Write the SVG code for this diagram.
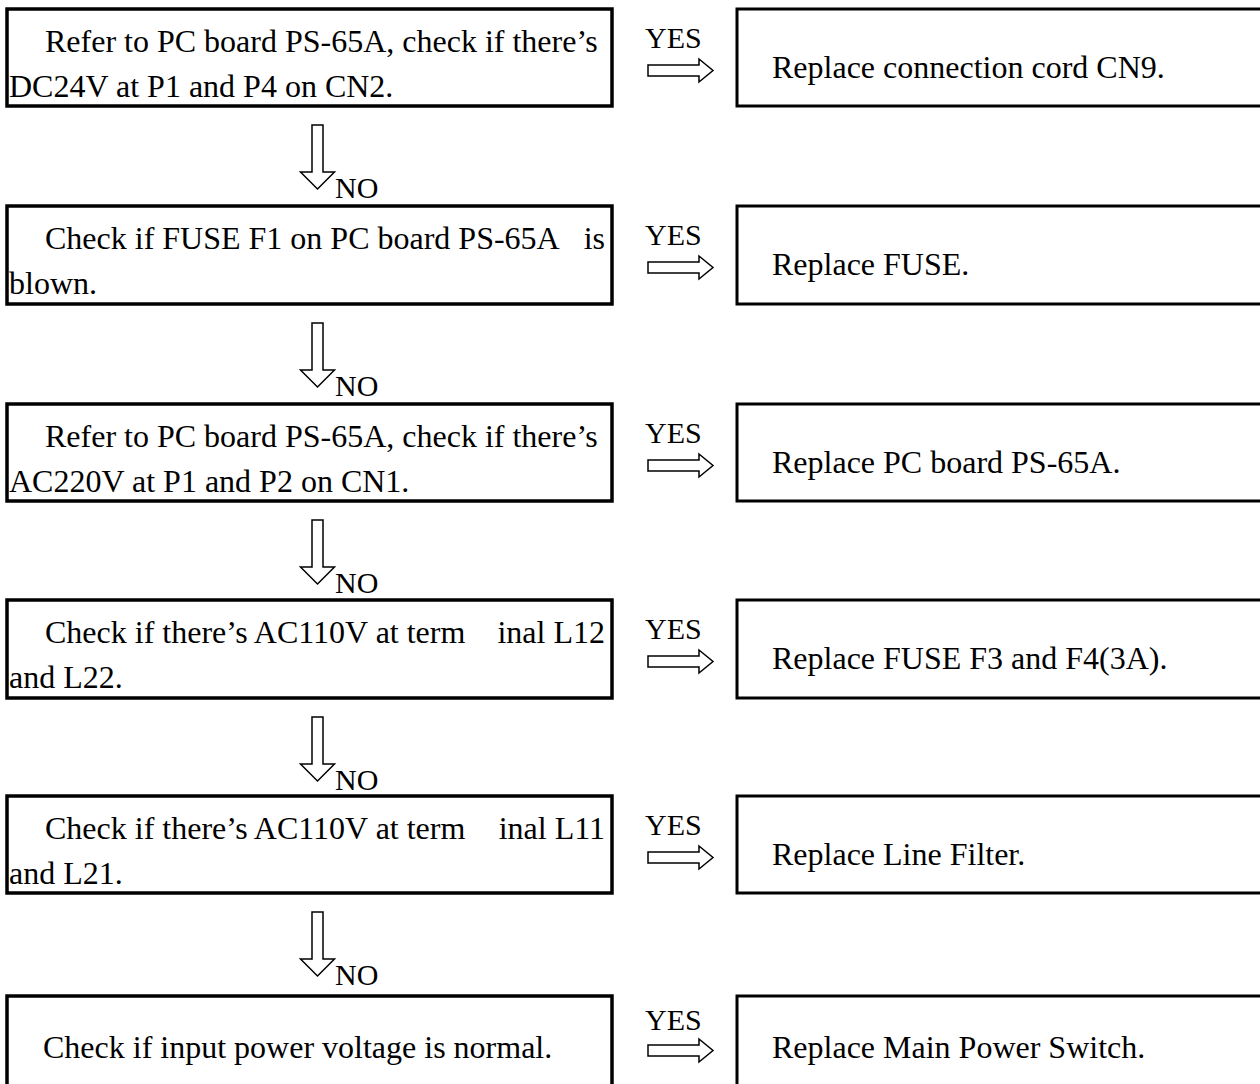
<svg xmlns="http://www.w3.org/2000/svg" width="1260" height="1084" viewBox="0 0 1260 1084">
<style>
.t{font-family:"Liberation Serif","Times New Roman",serif;font-size:32px;fill:#000}
.lbl{font-family:"Liberation Serif","Times New Roman",serif;font-size:30px;fill:#000}
.lb{fill:#fff;stroke:#000;stroke-width:3.5}
.rb{fill:#fff;stroke:#000;stroke-width:3}
.ar{fill:#fff;stroke:#000;stroke-width:1.5;stroke-linejoin:miter}
</style>
<rect width="1260" height="1084" fill="#fff"/>
<g id="q1">
<rect class="lb" x="7" y="9" width="605" height="97"/>
<text class="t" x="45" y="52">Refer to PC board PS-65A, check if there’s</text>
<text class="t" x="9" y="97">DC24V at P1 and P4 on CN2.</text>
</g>
<g id="a1">
<rect class="rb" x="737" y="9" width="530" height="97"/>
<text class="t" x="772" y="78">Replace connection cord CN9.</text>
</g>
<g id="q2">
<rect class="lb" x="7" y="206" width="605" height="98"/>
<text class="t" y="249"><tspan x="45">Check if FUSE F1 on PC board PS-65A </tspan><tspan x="605" text-anchor="end">is</tspan></text>
<text class="t" x="9" y="294">blown.</text>
</g>
<g id="a2">
<rect class="rb" x="737" y="206" width="530" height="98"/>
<text class="t" x="772" y="275">Replace FUSE.</text>
</g>
<g id="q3">
<rect class="lb" x="7" y="404" width="605" height="97"/>
<text class="t" x="45" y="447">Refer to PC board PS-65A, check if there’s</text>
<text class="t" x="9" y="492">AC220V at P1 and P2 on CN1.</text>
</g>
<g id="a3">
<rect class="rb" x="737" y="404" width="530" height="97"/>
<text class="t" x="772" y="473">Replace PC board PS-65A.</text>
</g>
<g id="q4">
<rect class="lb" x="7" y="600" width="605" height="98"/>
<text class="t" y="643"><tspan x="45">Check if there’s AC110V at term </tspan><tspan x="605" text-anchor="end">inal L12</tspan></text>
<text class="t" x="9" y="688">and L22.</text>
</g>
<g id="a4">
<rect class="rb" x="737" y="600" width="530" height="98"/>
<text class="t" x="772" y="669">Replace FUSE F3 and F4(3A).</text>
</g>
<g id="q5">
<rect class="lb" x="7" y="796" width="605" height="97"/>
<text class="t" y="839"><tspan x="45">Check if there’s AC110V at term </tspan><tspan x="605" text-anchor="end">inal L11</tspan></text>
<text class="t" x="9" y="884">and L21.</text>
</g>
<g id="a5">
<rect class="rb" x="737" y="796" width="530" height="97"/>
<text class="t" x="772" y="865">Replace Line Filter.</text>
</g>
<g id="q6">
<rect class="lb" x="7" y="996" width="605" height="100"/>
<text class="t" x="43" y="1058">Check if input power voltage is normal.</text>
</g>
<g id="a6">
<rect class="rb" x="737" y="996" width="530" height="100"/>
<text class="t" x="772" y="1058">Replace Main Power Switch.</text>
</g>
<g id="connectors">
<path class="ar" d="M648,65 H699 V59 L713,70.5 L699,82 V76 H648 Z"/>
<path class="ar" d="M648,262 H699 V256 L713,267.5 L699,279 V273 H648 Z"/>
<path class="ar" d="M648,460 H699 V454 L713,465.5 L699,477 V471 H648 Z"/>
<path class="ar" d="M648,656 H699 V650 L713,661.5 L699,673 V667 H648 Z"/>
<path class="ar" d="M648,852 H699 V846 L713,857.5 L699,869 V863 H648 Z"/>
<path class="ar" d="M648,1045 H699 V1039 L713,1050.5 L699,1062 V1056 H648 Z"/>
<text class="lbl" x="645" y="48">YES</text>
<text class="lbl" x="645" y="245">YES</text>
<text class="lbl" x="645" y="443">YES</text>
<text class="lbl" x="645" y="639">YES</text>
<text class="lbl" x="645" y="835">YES</text>
<text class="lbl" x="645" y="1030">YES</text>
<path class="ar" d="M312,125 H323 V172 H334.5 L317.5,189 L300.5,172 H312 Z"/>
<path class="ar" d="M312,323 H323 V370 H334.5 L317.5,387 L300.5,370 H312 Z"/>
<path class="ar" d="M312,520 H323 V567 H334.5 L317.5,584 L300.5,567 H312 Z"/>
<path class="ar" d="M312,717 H323 V764 H334.5 L317.5,781 L300.5,764 H312 Z"/>
<path class="ar" d="M312,912 H323 V959 H334.5 L317.5,976 L300.5,959 H312 Z"/>
<text class="lbl" x="335" y="198">NO</text>
<text class="lbl" x="335" y="396">NO</text>
<text class="lbl" x="335" y="593">NO</text>
<text class="lbl" x="335" y="790">NO</text>
<text class="lbl" x="335" y="985">NO</text>
</g>
</svg>
